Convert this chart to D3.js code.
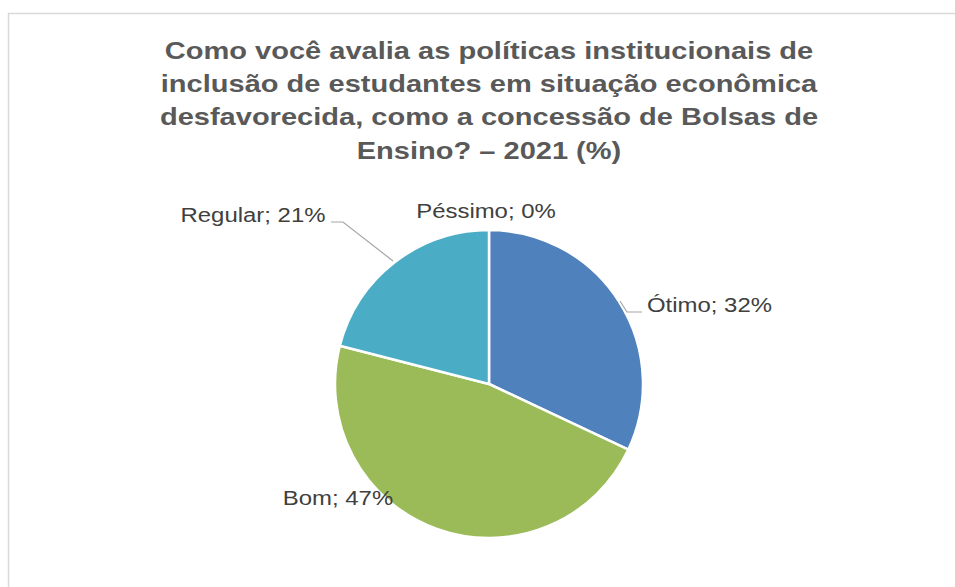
<!DOCTYPE html>
<html>
<head>
<meta charset="utf-8">
<script src="https://cdn.jsdelivr.net/npm/d3@7"></script>
<style>
  body { margin: 0; background: #fff; }
  svg { display: block; font-family: "Liberation Sans", Arial, sans-serif; }
</style>
</head>
<body>
<svg id="chart" width="955" height="587"></svg>
<script>
'use strict';

// chart data
var categories = ["Ótimo", "Bom", "Regular", "Péssimo"];
var values = [32, 47, 21, 0];
var colors = ["#4F81BD", "#9BBB59", "#4BACC6", "#C0504D"];
var titleLines = [
    "Como você avalia as políticas institucionais de",
    "inclusão de estudantes em situação econômica",
    "desfavorecida, como a concessão de Bolsas de",
    "Ensino? – 2021 (%)"
];

var svg = d3.select("#chart");

// chart area frame
svg.append("rect")
    .attr("x", 8.5).attr("y", 13.5)
    .attr("width", 960).attr("height", 600)
    .attr("fill", "#fff")
    .attr("stroke", "#d9d9d9")
    .attr("stroke-width", 1.5);

// title (the source text is a bit wider than the font, so stretch it)
var title = svg.append("g")
    .attr("transform", "translate(489,0) scale(1.21,1)")
    .append("text")
    .attr("text-anchor", "middle")
    .attr("fill", "#595959")
    .style("font-size", "24px")
    .style("font-weight", "bold");
title.selectAll("tspan")
    .data(titleLines)
    .enter().append("tspan")
        .attr("x", 0)
        .attr("y", function(d, i) { return 59 + i * 33.2; })
        .text(function(d) { return d; });

var cx = 489, cy = 384, r = 154;
var data = categories.map(function(c, i) { return {label: c, value: values[i], color: colors[i]}; });

var pie = d3.pie().sort(null).value(function(d) { return d.value; });
var arc = d3.arc().innerRadius(0).outerRadius(r);
var arcs = pie(data);

var g = svg.append("g").attr("transform", "translate(" + cx + "," + cy + ")");

g.selectAll("path")
    .data(arcs.filter(function(d) { return d.data.value > 0; }))
    .enter().append("path")
        .attr("d", arc)
        .attr("fill", function(d) { return d.data.color; })
        .attr("stroke", "#fff")
        .attr("stroke-width", 2.5)
        .attr("stroke-linejoin", "round");

// labels: position relative to pie centre
var labelPos = {
    "Ótimo":   {x: 158, y: -72, anchor: "start", leader: [[131, -83], [138, -72], [153, -72]]},
    "Bom":     {x: -151, y: 121, anchor: "middle", leader: null},
    "Regular": {x: -236, y: -162, anchor: "middle", leader: [[-158, -162], [-146, -162], [-96, -123]]},
    "Péssimo": {x: -3, y: -166, anchor: "middle", leader: null}
};

arcs.forEach(function(d) {
    var p = labelPos[d.data.label];
    if (p.leader) {
        g.append("path")
            .attr("d", d3.line()(p.leader))
            .attr("fill", "none")
            .attr("stroke", "#a6a6a6")
            .attr("stroke-width", 1.2);
    }
    g.append("g")
        .attr("transform", "translate(" + p.x + "," + p.y + ") scale(1.14,1)")
        .append("text")
        .attr("text-anchor", p.anchor)
        .attr("fill", "#404040")
        .style("font-size", "21px")
        .text(d.data.label + "; " + d.data.value + "%");
});
</script>
</body>
</html>
